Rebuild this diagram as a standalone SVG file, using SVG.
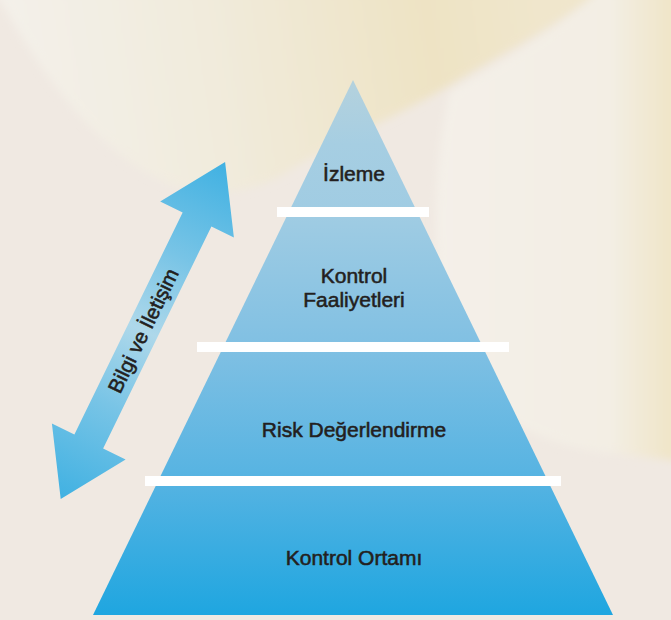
<svg xmlns="http://www.w3.org/2000/svg" width="671" height="620" viewBox="0 0 671 620">
  <defs>
    <linearGradient id="bgBlob1" gradientUnits="userSpaceOnUse" x1="0" y1="120" x2="540" y2="40">
      <stop offset="0" stop-color="#f4f1eb"/>
      <stop offset="0.4" stop-color="#f1ebdc"/>
      <stop offset="0.8" stop-color="#eee3c4"/>
      <stop offset="1" stop-color="#f0e6cc"/>
    </linearGradient>
    <linearGradient id="bgBlob2" gradientUnits="userSpaceOnUse" x1="430" y1="0" x2="671" y2="0">
      <stop offset="0" stop-color="#f4f0e9"/>
      <stop offset="0.75" stop-color="#f3eee4"/>
      <stop offset="1" stop-color="#f0e5c8"/>
    </linearGradient>
    <linearGradient id="pyr" gradientUnits="userSpaceOnUse" x1="0" y1="80" x2="0" y2="615">
      <stop offset="0" stop-color="#aacee0" stop-opacity="0.85"/>
      <stop offset="0.12" stop-color="#a6cee2"/>
      <stop offset="0.25" stop-color="#a0cce3"/>
      <stop offset="0.5" stop-color="#80c0e3"/>
      <stop offset="0.75" stop-color="#55b3e2"/>
      <stop offset="1" stop-color="#1fa6e0"/>
    </linearGradient>
    <linearGradient id="arr" gradientUnits="userSpaceOnUse" x1="0" y1="0" x2="375" y2="0">
      <stop offset="0" stop-color="#40b1e2"/>
      <stop offset="0.28" stop-color="#78c4e6"/>
      <stop offset="0.5" stop-color="#aed8ea"/>
      <stop offset="0.72" stop-color="#78c4e6"/>
      <stop offset="1" stop-color="#40b1e2"/>
    </linearGradient>
    <filter id="soft" x="-10%" y="-10%" width="120%" height="120%">
      <feGaussianBlur stdDeviation="4"/>
    </filter>
    <style>
      .lvl { fill: url(#pyr); }
      .bar { fill: #ffffff; }
      .lbl { font-family: "Liberation Sans", Arial, sans-serif; font-size: 21px; fill: #231f20; stroke: #231f20; stroke-width: 0.55; text-anchor: middle; }
    </style>
  </defs>

  <rect x="0" y="0" width="671" height="620" fill="#f0e9e2"/>
  <g filter="url(#soft)">
    <path d="M-10,-10 L0,0 C40,70 100,160 180,188 C220,198 260,190 290,170 C330,145 400,115 450,85 C500,55 560,25 600,-10 Z" fill="url(#bgBlob1)"/>
    <path d="M450,92 C435,150 430,250 445,330 C460,400 520,440 600,452 L690,462 L690,-10 L600,-10 C560,30 500,62 450,92 Z" fill="url(#bgBlob2)"/>
  </g>

  <g id="level-izleme">
    <polygon class="lvl" points="353,80 417.2,212 288.8,212"/>
    <text class="lbl" x="354" y="181">İzleme</text>
  </g>
  <g id="level-kontrol-faaliyetleri">
    <polygon class="lvl" points="288.8,212 417.2,212 482.8,347 223.2,347"/>
    <text class="lbl" x="354" y="283">Kontrol</text>
    <text class="lbl" x="354" y="307">Faaliyetleri</text>
  </g>
  <g id="level-risk">
    <polygon class="lvl" points="223.2,347 482.8,347 547.9,481 158.1,481"/>
    <text class="lbl" x="354" y="437">Risk Değerlendirme</text>
  </g>
  <g id="level-kontrol-ortami">
    <polygon class="lvl" points="158.1,481 547.9,481 613,615 93,615"/>
    <text class="lbl" x="354" y="565">Kontrol Ortamı</text>
  </g>
  <g id="separators">
    <rect class="bar" x="277" y="207" width="152" height="10"/>
    <rect class="bar" x="197" y="342" width="312" height="10"/>
    <rect class="bar" x="145" y="476" width="416" height="10"/>
  </g>

  <g id="connectors">
    <g id="bilgi-ve-iletisim" transform="translate(60.7,499) rotate(-64)">
      <polygon fill="url(#arr)" points="0,0 64,-41 64,-16 311,-16 311,-41 375,0 311,41 311,16 64,16 64,41"/>
      <text class="lbl" x="187.5" y="7.5" style="font-size:20.5px">Bilgi ve İletişim</text>
    </g>
  </g>
</svg>
